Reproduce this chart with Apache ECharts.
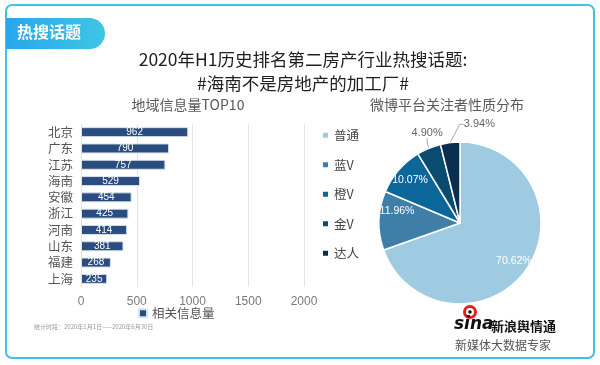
<!DOCTYPE html>
<html><head><meta charset="utf-8">
<script src="https://cdn.jsdelivr.net/npm/echarts@6/dist/echarts.min.js"></script>
<style>html,body{margin:0;padding:0;background:#fff}#c{width:600px;height:365px}</style>
</head><body><div id="c"></div>
<script>
const regions = ['北京','广东','江苏','海南','安徽','浙江','河南','山东','福建','上海'];
const regionValues = [962,790,757,529,454,425,414,381,268,235];
const xTicks = [0,500,1000,1500,2000];
const pieNames = ['普通','蓝V','橙V','金V','达人'];
const pieValues = [70.62,11.96,10.07,4.90,3.94];
const pieColors = ['#9ecbe1','#3f7fa7','#0b6699','#0a4c70','#0a2e4f'];
const FONT = '"Noto Sans CJK SC","Noto Sans",sans-serif';
const NUMFONT = '"Liberation Sans",Arial,sans-serif';
const pct = p => p.value.toFixed(2) + '%';

const chart = echarts.init(document.getElementById('c'));
chart.setOption({
  animation:false,
  textStyle:{fontFamily:FONT},
  title:[
    {text:'2020年H1历史排名第二房产行业热搜话题:\n#海南不是房地产的加工厂#',left:298,textAlign:'center',top:42,
     textStyle:{fontSize:17.5,fontWeight:'normal',color:'#1f1f1f',lineHeight:24,fontFamily:FONT}},
    {text:'地域信息量TOP10',left:183,textAlign:'center',top:93,textStyle:{fontSize:14,fontWeight:'normal',color:'#595959',fontFamily:FONT}},
    {text:'微博平台关注者性质分布',left:442,textAlign:'center',top:93,textStyle:{fontSize:14,fontWeight:'normal',color:'#595959',fontFamily:FONT}}
  ],
  grid:{left:81,right:296,top:124,bottom:78,containLabel:false},
  xAxis:{type:'value',min:0,max:2000,interval:500,
    axisLine:{show:false},axisTick:{show:false},
    splitLine:{lineStyle:{color:'#e3e3e3'}},
    axisLabel:{color:'#7a7a7a',fontSize:12,fontFamily:NUMFONT,margin:9,formatter:v=>xTicks.includes(v)?String(v):''}},
  yAxis:{type:'category',data:regions,inverse:true,
    axisLine:{show:false},axisTick:{show:false},
    axisLabel:{color:'#555',fontSize:12.5,margin:8,interval:0}},
  legend:[
    {data:['相关信息量'],left:133,top:302,itemWidth:8,itemHeight:8,icon:'rect',
     textStyle:{fontSize:12.5,color:'#555'}},
    {data:pieNames,orient:'vertical',left:316,top:124,itemWidth:7,itemHeight:7,itemGap:17,icon:'rect',
     textStyle:{fontSize:12.5,color:'#444'}}
  ],
  series:[
    {name:'相关信息量',type:'bar',data:regionValues,barWidth:10,
     itemStyle:{color:'#2a4c7e',borderColor:'#d5e2f0',borderWidth:1},
     label:{show:true,position:'inside',color:'#fff',fontSize:10,fontFamily:NUMFONT}},
    {type:'pie',center:[460,223],radius:[0,81],startAngle:90,clockwise:true,
     itemStyle:{borderColor:'#fff',borderWidth:1.5},
     data:pieNames.map((n,i)=>({name:n,value:pieValues[i],itemStyle:{color:pieColors[i]},
       label: i<3 ? {show:false}
                  : {show:true,position:'outside',color:'#666',fontSize:11,fontFamily:NUMFONT,formatter:pct},
       labelLine: i<3 ? {show:false} : {show:true,length:10,length2:4,lineStyle:{color:'#aaa'}}
     })),
     labelLayout: function(p){
       if(p.dataIndex===4){ return {x:p.rect.x+p.rect.width+3, y:p.rect.y-17, align:'left', verticalAlign:'middle'}; }
       if(p.dataIndex===3){ return {x:p.rect.x+10, y:p.rect.y-11, align:'center', verticalAlign:'middle'}; }
       return {};
     }
    },
    {type:'pie',center:[460,223],radius:[45,81],startAngle:90,clockwise:true,silent:true,
     legendHoverLink:false,z:5,
     itemStyle:{color:'rgba(0,0,0,0)',borderWidth:0},
     data:pieNames.map((n,i)=>({name:'_'+n,value:pieValues[i],
       label:{show:i<3,position:'inside',color:'#fff',fontSize:10.5,fontFamily:NUMFONT,formatter:pct},
       labelLine:{show:false}})),
     labelLayout: function(p){
       if(p.dataIndex===1){ return {dx:3, dy:-10}; }
       return {};
     }
    }
  ],
  graphic:[
    {type:'rect',shape:{x:6,y:5,width:588,height:353,r:6},style:{fill:'none',stroke:'#3ec3e6',lineWidth:2},z:-1},
    {type:'rect',shape:{x:6,y:18,width:99,height:31,r:[0,16,16,0]},
     style:{fill:new echarts.graphic.LinearGradient(0,0,1,0,[{offset:0,color:'#28a6ee'},{offset:1,color:'#3ec6e2'}])}},
    {type:'text',left:17,top:24,style:{text:'热搜话题',fill:'#fff',font:'bold 16px '+FONT}},
    {type:'text',left:34,top:324,style:{text:'统计时段：2020年1月1日——2020年6月30日',fill:'#999',font:'6px '+FONT}},
    {type:'circle',shape:{cx:470,cy:312,r:5.5},style:{fill:'#fff',stroke:'#e0201c',lineWidth:3}},
    {type:'circle',shape:{cx:470,cy:312,r:1.8},style:{fill:'#111'}},
    {type:'text',left:454,top:316,style:{text:'sina',fill:'#111',font:'italic bold 17px "DejaVu Sans",sans-serif'}},
    {type:'text',left:491,top:320,style:{text:'新浪舆情通',fill:'#111',font:'bold 13px '+FONT}},
    {type:'text',left:455,top:339,style:{text:'新媒体大数据专家',fill:'#555',font:'12px '+FONT}}
  ]
});
</script></body></html>
